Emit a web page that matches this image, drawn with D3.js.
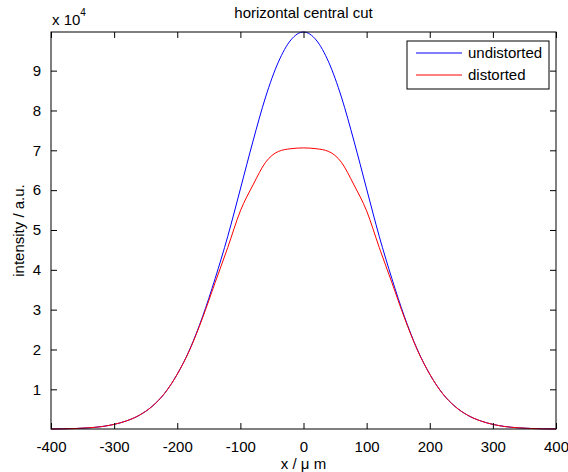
<!DOCTYPE html>
<html>
<head>
<meta charset="utf-8">
<script src="https://cdn.jsdelivr.net/npm/d3@7"></script>
<style>
  body { margin: 0; background: #fff; }
  text { font-family: "Liberation Sans", Arial, sans-serif; font-size: 15px; fill: #000; }
</style>
</head>
<body>
<div id="chart"></div>
<script>
// positions along the cut, in micrometres
var xPositions = [-400, -380, -360, -340, -320, -300, -280, -260, -240, -220, -200,
  -180, -160, -140, -120, -100, -80, -60, -40, -20, 0,
  20, 40, 60, 80, 100, 120, 140, 160, 180, 200,
  220, 240, 260, 280, 300, 320, 340, 360, 380, 400]

var undistorted = [40, 80, 170, 340, 640, 1200, 2100, 3500, 5700, 9000, 13800,
  20100, 28200, 37800, 48400, 60300, 72300, 83400, 92100, 97700, 99700,
  97700, 92100, 83400, 72300, 60300, 48400, 37800, 28200, 20100, 13800,
  9000, 5700, 3500, 2100, 1200, 640, 340, 170, 80, 40]

var distorted = [40, 80, 170, 340, 640, 1200, 2100, 3500, 5700, 9000, 13800,
  20000, 27900, 36800, 45600, 54800, 61300, 67000, 69700, 70400, 70600,
  70400, 69700, 67000, 61300, 54800, 45600, 36800, 27900, 20000, 13800,
  9000, 5700, 3500, 2100, 1200, 640, 340, 170, 80, 40]

var xTicks = [-400, -300, -200, -100, 0, 100, 200, 300, 400]
var yTicks = [10000, 20000, 30000, 40000, 50000, 60000, 70000, 80000, 90000]

var seriesNames = ["undistorted", "distorted"]
var seriesColors = ["#0000ff", "#ff0000"]

;(function () {

  var margin = { top: 32, right: 12, bottom: 43, left: 51 }

  var width = 568 - margin.left - margin.right,
      height = 472 - margin.top - margin.bottom

  var svg = d3.select("#chart").append("svg")
      .attr("width", width + margin.left + margin.right)
      .attr("height", height + margin.top + margin.bottom)
      .append("g")
      .attr("transform", "translate(" + margin.left + "," + margin.top + ")")

  var xPositionScale = d3.scaleLinear()
    .domain([-400, 400])
    .range([0, width])

  var yPositionScale = d3.scaleLinear()
    .domain([d3.min(undistorted), d3.max(undistorted)])
    .range([height, 0])

  var line = d3.line()
    .x(function(d) { return xPositionScale(d[0]) })
    .y(function(d) { return yPositionScale(d[1]) })
    .curve(d3.curveMonotoneX)

  var series = [undistorted, distorted]

  // curves, red on top of blue
  svg.selectAll(".curve")
    .data(series)
    .enter().append("path")
    .attr("class", "curve")
    .attr("fill", "none")
    .attr("stroke", function(d, i) { return seriesColors[i] })
    .attr("stroke-width", 1)
    .attr("d", function(d) {
      return line(d.map(function(v, j) { return [xPositions[j], v] }))
    })

  // axes with inward ticks, matlab style box
  var tickLen = 6
  var xAxis = d3.axisBottom(xPositionScale)
    .tickValues(xTicks)
    .tickSizeInner(-tickLen)
    .tickSizeOuter(0)
    .tickPadding(12)
    .tickFormat(function(d) { return String(d) })

  svg.append("g")
    .attr("class", "axis x-axis")
    .attr("transform", "translate(0," + height + ")")
    .call(xAxis)

  svg.append("g")
    .attr("class", "axis x-axis-top")
    .call(d3.axisTop(xPositionScale).tickValues(xTicks).tickSizeInner(-tickLen).tickSizeOuter(0).tickFormat(""))

  var yAxis = d3.axisLeft(yPositionScale)
    .tickValues(yTicks)
    .tickSizeInner(-tickLen)
    .tickSizeOuter(0)
    .tickPadding(10)
    .tickFormat(function(d) { return d / 10000 })

  svg.append("g")
    .attr("class", "axis y-axis")
    .call(yAxis)

  svg.append("g")
    .attr("class", "axis y-axis-right")
    .attr("transform", "translate(" + width + ",0)")
    .call(d3.axisRight(yPositionScale).tickValues(yTicks).tickSizeInner(-tickLen).tickSizeOuter(0).tickFormat(""))

  svg.selectAll(".axis .domain").remove()
  svg.selectAll(".axis line").attr("stroke", "#000")
  svg.selectAll(".axis text")
    .attr("font-family", "Liberation Sans, Arial, sans-serif")
    .attr("font-size", 15)
    .attr("fill", "#000")

  svg.append("rect")
    .attr("x", 0)
    .attr("y", 0)
    .attr("width", width)
    .attr("height", height)
    .attr("fill", "none")
    .attr("stroke", "#000")
    .attr("stroke-width", 1)

  // exponent label
  var expo = svg.append("text")
    .attr("x", 1)
    .attr("y", -7)
  expo.append("tspan").text("x 10")
  expo.append("tspan")
    .attr("dy", -9)
    .attr("font-size", 10)
    .text("4")

  // title and axis labels
  svg.append("text")
    .attr("x", width / 2)
    .attr("y", -14)
    .attr("text-anchor", "middle")
    .text("horizontal central cut")

  svg.append("text")
    .attr("x", width / 2)
    .attr("y", height + 40)
    .attr("text-anchor", "middle")
    .text("x / μ m")

  svg.append("text")
    .attr("transform", "translate(-27," + (height / 2) + ") rotate(-90)")
    .attr("text-anchor", "middle")
    .text("intensity / a.u.")

  // legend
  var legend = svg.append("g")
    .attr("transform", "translate(" + (width - 149) + ",9)")

  legend.append("rect")
    .attr("width", 142)
    .attr("height", 48)
    .attr("fill", "#fff")
    .attr("stroke", "#000")

  var items = legend.selectAll(".item")
    .data(seriesNames)
    .enter().append("g")
    .attr("class", "item")
    .attr("transform", function(d, i) { return "translate(0," + (12 + i * 22) + ")" })

  items.append("line")
    .attr("x1", 9)
    .attr("x2", 55)
    .attr("stroke", function(d, i) { return seriesColors[i] })

  items.append("text")
    .attr("x", 61)
    .attr("y", 5)
    .text(function(d) { return d })

})()
</script>
</body>
</html>
